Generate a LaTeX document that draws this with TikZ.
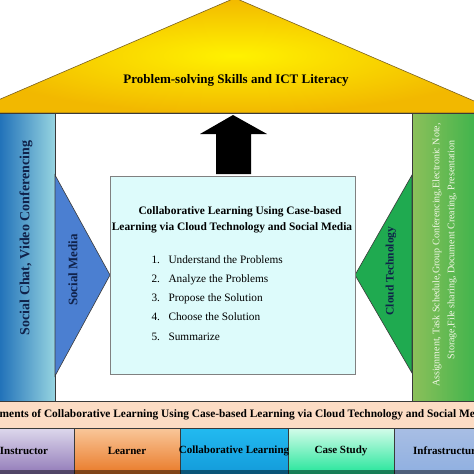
\documentclass[tikz,border=0pt]{standalone}
\usepackage{fontspec}
\setmainfont{Liberation Serif}
\definecolor{roofC}{HTML}{FFF200}
\definecolor{roofE}{HTML}{F2B800}
\definecolor{roofLine}{HTML}{7A6020}
\definecolor{pilL}{HTML}{1E6FB8}
\definecolor{pilR}{HTML}{96D4E0}
\definecolor{grL}{HTML}{8CC05A}
\definecolor{grR}{HTML}{40B44C}
\definecolor{smblue}{HTML}{4B7FD1}
\definecolor{ctgreen}{HTML}{1FAA50}
\definecolor{boxc}{HTML}{DDFBFB}
\definecolor{peach}{HTML}{FCDCC4}
\definecolor{insT}{HTML}{DDD8EC}
\definecolor{insB}{HTML}{8B72B4}
\definecolor{leaT}{HTML}{F9C79A}
\definecolor{leaB}{HTML}{E8731E}
\definecolor{colT}{HTML}{22BAF0}
\definecolor{colB}{HTML}{1298D8}
\definecolor{casT}{HTML}{D4FCEA}
\definecolor{casB}{HTML}{14E393}
\definecolor{infT}{HTML}{A8BEE4}
\definecolor{infB}{HTML}{8DAEE0}
\definecolor{navy}{HTML}{10224A}
\definecolor{linec}{HTML}{3A3A3A}
\definecolor{palet}{HTML}{F4F8E8}
\tikzset{
  edge/.style={draw=linec, line width=0.6pt},
  vtext/.style={rotate=90, font=\bfseries\fontsize{14}{16}\selectfont, text=navy},
  ctext/.style={rotate=90, font=\fontsize{10}{12}\selectfont, text=palet},
  listnum/.style={anchor=base west, font=\fontsize{11.3}{13}\selectfont},
  elem/.style={font=\bfseries\fontsize{11}{13}\selectfont, text=black},
  titletext/.style={font=\bfseries\fontsize{11.4}{13}\selectfont},
}
\begin{document}
\begin{tikzpicture}[x=1pt,y=-1pt]
\useasboundingbox (0,0) rectangle (474,474);
\clip (0,0) rectangle (474,474);
\fill[white] (0,0) rectangle (474,474);
% roof
\coordinate (apex) at (235,-2);
\coordinate (rl) at (-32,113);
\coordinate (rr) at (502,113);
\shade[inner color=roofC, outer color=roofE, draw=roofLine, line width=0.6pt] (rl) -- (apex) -- (rr) -- cycle;
\node[font=\bfseries\fontsize{13}{15}\selectfont] (rooftext) at (236,80) {Problem-solving Skills and ICT Literacy};
% inner frame
\draw[edge, fill=white] (55,113) rectangle (412,401);
% pillars
\shade[left color=pilL, right color=pilR, edge] (-2,113) rectangle (55,401);
\shade[left color=grL, right color=grR, edge] (412,113) rectangle (476,401);
\node[vtext] (chat) at (26,238) {Social Chat, Video Conferencing};
\node[ctext] (c1) at (437,255) {Assignment, Task Schedule,Group Conferencing,Electronic Note,};
\node[ctext] (c2) at (452,250) {Storage,File sharing, Document Creating, Presentation};
% side triangles
\filldraw[fill=smblue, edge] (55,175) -- (110,275) -- (55,376) -- cycle;
\filldraw[fill=ctgreen, edge] (412,175) -- (355,275) -- (412,373) -- cycle;
\node[vtext, font=\bfseries\fontsize{13}{15}\selectfont] (sm) at (73,270) {Social Media};
\node[vtext, font=\bfseries\fontsize{11.5}{13}\selectfont] (ct) at (391,271) {Cloud Technology};
% central box
\draw[draw=gray, fill=boxc, line width=0.6pt] (110,176) rectangle (355,374);
\node[titletext] (title1) at (240,212) {Collaborative Learning Using Case-based};
\node[titletext] (title2) at (232,228) {Learning via Cloud Technology and Social Media};
\node[listnum] (n1) at (148,263) {1.};
\node[listnum] (t1) at (165,263) {Understand the Problems};
\node[listnum] (n2) at (148,282) {2.};
\node[listnum] (t2) at (165,282) {Analyze\ the Problems};
\node[listnum] (n3) at (148,301) {3.};
\node[listnum] (t3) at (165,301) {Propose the Solution};
\node[listnum] (n4) at (148,320) {4.};
\node[listnum] (t4) at (165,320) {Choose the Solution};
\node[listnum] (n5) at (148,340) {5.};
\node[listnum] (t5) at (165,340) {Summarize};
% arrow
\fill[black] (216,174) -- (216,134) -- (200,134) -- (233,115) -- (267,134) -- (251,134) -- (251,174) -- cycle;
% banner
\filldraw[fill=peach, edge] (-2,401) rectangle (476,428);
\node[elem, font=\bfseries\fontsize{11.4}{13}\selectfont] (banner) at (237,415) {Elements of Collaborative Learning Using Case-based Learning via Cloud Technology and Social Media};
% bottom boxes
\shade[top color=insT, bottom color=insB, edge] (-2,428) rectangle (74,478);
\shade[top color=leaT, bottom color=leaB, edge] (74,428) rectangle (180,478);
\shade[top color=colT, bottom color=colB, edge] (180,428) rectangle (288,478);
\shade[top color=casT, bottom color=casB, edge] (288,428) rectangle (394,478);
\shade[top color=infT, bottom color=infB, edge] (394,428) rectangle (480,478);
\fill[black, opacity=0.45] (-2,470) rectangle (480,478);
\node[elem] (ins) at (24,451) {Instructor};
\node[elem] (lea) at (127,451) {Learner};
\node[elem] (col) at (234,451) {Collaborative Learning};
\node[elem] (cas) at (341,451) {Case Study};
\node[elem] (inf) at (447,451) {Infrastructure};
\end{tikzpicture}
\end{document}
